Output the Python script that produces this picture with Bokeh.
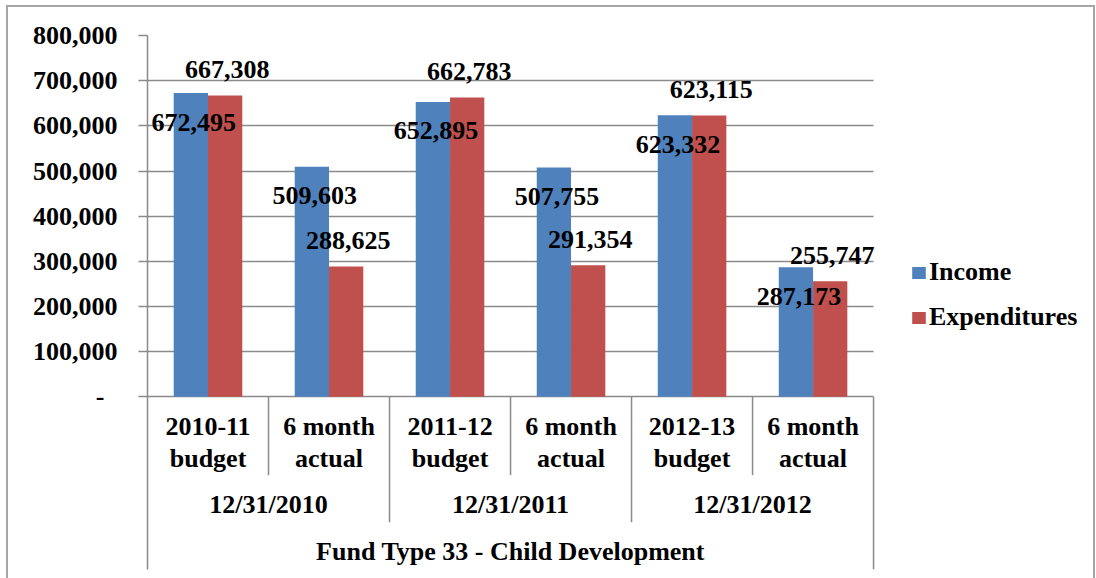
from bokeh.plotting import figure
from bokeh.models import (Range1d, FixedTicker, NumeralTickFormatter,
                          Legend, LegendItem, ColumnDataSource)
from bokeh.transform import dodge
from bokeh.core.properties import value
from bokeh.embed import file_html
from bokeh.resources import INLINE

# ---------------- data ----------------
groups = ["12/31/2010", "12/31/2011", "12/31/2012"]
periods = ["2010-11\nbudget", "6 month\nactual", "2011-12\nbudget",
           "6 month\nactual", "2012-13\nbudget", "6 month\nactual"]
period_group = [0, 0, 1, 1, 2, 2]
income = [672495, 509603, 652895, 507755, 623332, 287173]
expenditures = [667308, 288625, 662783, 291354, 623115, 255747]
series_names = ["Income", "Expenditures"]
y_ticks = [0, 100000, 200000, 300000, 400000, 500000, 600000, 700000, 800000]
outer_title = "Fund Type 33 - Child Development"

# ---------------- layout (pixels) ----------------
BORDER = 2
W, H = 1089, 573                 # element size (border-box)
CANVAS_W = W - 2 * BORDER
CANVAS_H = H - BORDER
FRAME_LEFT = 139
PLOT_W = 723                     # width of the category area
FRAME_TOP = 28
ZERO_PX = 388                    # canvas y of value 0
FRAME_BOTTOM = 560
SUB_DIV, GROUP_DIV, OUTER_DIV = 78, 125, 172

n = len(periods)
px_per_unit = (ZERO_PX - FRAME_TOP) / y_ticks[-1]
y_start = -(FRAME_BOTTOM - ZERO_PX) / px_per_unit
x_end = n * (CANVAS_W - FRAME_LEFT) / PLOT_W

FONT = value("Liberation Serif")
FS = "26px"
GRID = "#8a8a8a"
C_INC = "#4F81BD"
C_EXP = "#C0504D"
BORDER_CSS = f"{BORDER}px solid #a6a6a6"

p = figure(width=W, height=H, output_backend="svg", toolbar_location=None,
           title=None, x_axis_location=None,
           x_range=Range1d(0, x_end), y_range=Range1d(y_start, y_ticks[-1]),
           min_border_left=FRAME_LEFT, min_border_right=0,
           min_border_top=FRAME_TOP, min_border_bottom=CANVAS_H - FRAME_BOTTOM,
           styles={"border-top": BORDER_CSS, "border-left": BORDER_CSS,
                   "border-right": BORDER_CSS, "margin-left": "6px",
                   "margin-top": "5px"})
p.outline_line_color = None
p.background_fill_color = "white"
p.border_fill_color = "white"
p.xgrid.visible = False

ticker = FixedTicker(ticks=y_ticks)
yax = p.yaxis[0]
yax.ticker = ticker
yax.formatter = NumeralTickFormatter(format="0,0")
yax.major_label_overrides = {0: "-\u00a0\u00a0"}
yax.minor_tick_line_color = None
yax.major_tick_in = 0
yax.major_tick_out = 9
yax.major_tick_line_color = GRID
yax.major_tick_line_width = 1.5
yax.axis_line_color = GRID
yax.axis_line_width = 1.5
yax.major_label_standoff = 21
yax.major_label_text_font = "Liberation Serif"
yax.major_label_text_font_style = "bold"
yax.major_label_text_font_size = FS
yax.major_label_text_color = "black"

p.ygrid.ticker = ticker
p.ygrid.grid_line_color = GRID
p.ygrid.grid_line_width = 1.5
try:
    p.ygrid.cross_bounds = (0, n)
except Exception:
    p.ygrid.visible = False
    p.segment(x0=[0] * len(y_ticks), y0=y_ticks, x1=[n] * len(y_ticks), y1=y_ticks,
              line_color=GRID, line_width=1.5)

centers = [i + 0.5 for i in range(n)]
src = ColumnDataSource(dict(
    x=centers, inc=income, exp=expenditures,
    inc_lbl=[f"{v:,}" for v in income], exp_lbl=[f"{v:,}" for v in expenditures],
))
bw = 34 / 120
r_inc = p.vbar(x=dodge("x", -bw / 2), top="inc", width=bw,
               source=src, fill_color=C_INC, line_color=None)
r_exp = p.vbar(x=dodge("x", bw / 2), top="exp", width=bw,
               source=src, fill_color=C_EXP, line_color=None)

# data labels
p.text(x=dodge("x", -bw / 2), y="inc", text="inc_lbl", source=src,
       x_offset=3, y_offset=29, text_align="center", text_baseline="middle",
       text_font=FONT, text_font_style="bold", text_font_size=FS, text_color="black")
p.text(x=dodge("x", bw / 2), y="exp", text="exp_lbl", source=src,
       x_offset=2, y_offset=-26, text_align="center", text_baseline="middle",
       text_font=FONT, text_font_style="bold", text_font_size=FS, text_color="black")

# category dividers below the axis
x0s, y1s = [], []
for i in range(1, n):
    x0s.append(i)
    y1s.append(-(SUB_DIV if period_group[i] == period_group[i - 1] else GROUP_DIV) / px_per_unit)
x0s.append(n)
y1s.append(-OUTER_DIV / px_per_unit)
p.segment(x0=x0s, y0=[0] * len(x0s), x1=x0s, y1=y1s,
          line_color=GRID, line_width=1.5)

# category labels
p.text(x=centers, y=[0] * n, text=periods, y_offset=46, text_align="center",
       text_baseline="middle", text_line_height=1.1,
       text_font=FONT, text_font_style="bold", text_font_size=FS, text_color="black")
group_centers = []
for g in range(len(groups)):
    cs = [c for c, pg in zip(centers, period_group) if pg == g]
    group_centers.append(sum(cs) / len(cs))
p.text(x=group_centers, y=[0] * len(groups), text=groups, y_offset=108,
       text_align="center", text_baseline="middle",
       text_font=FONT, text_font_style="bold", text_font_size=FS, text_color="black")
p.text(x=[n / 2], y=[0], text=[outer_title], y_offset=155, text_align="center",
       text_baseline="middle",
       text_font=FONT, text_font_style="bold", text_font_size=FS, text_color="black")

legend = Legend(items=[LegendItem(label=series_names[0], renderers=[r_inc]),
                       LegendItem(label=series_names[1], renderers=[r_exp])],
                location=(763, 237), padding=0, margin=0, spacing=15,
                glyph_width=17, glyph_height=15, label_height=30, label_standoff=2,
                border_line_color=None, background_fill_alpha=0,
                label_text_font="Liberation Serif", label_text_font_style="bold",
                label_text_font_size=FS, label_text_color="black")
p.add_layout(legend, "center")

open("out.html", "w").write(file_html(p, INLINE))
